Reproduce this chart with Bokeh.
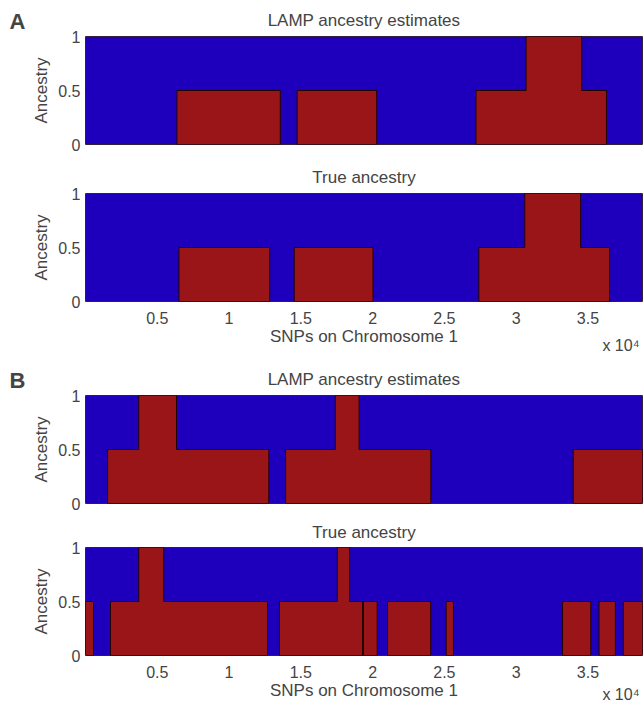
from bokeh.plotting import figure
from bokeh.layouts import column, row
from bokeh.models import FixedTicker, Range1d, LinearAxis
from bokeh.embed import file_html
from bokeh.resources import INLINE

# ---- data (SNP index breakpoints and ancestry value on each segment) ----
snp_max = 38800

a_est_edges = [0, 6370, 13570, 14740, 20290, 27200, 30690, 34570, 36290, 38800]
a_est_vals = [0, 0.5, 0, 0.5, 0, 0.5, 1, 0.5, 0]

a_true_edges = [0, 6510, 12830, 14540, 20030, 27400, 30600, 34490, 36510, 38800]
a_true_vals = [0, 0.5, 0, 0.5, 0, 0.5, 1, 0.5, 0]

b_est_edges = [0, 1540, 3710, 6340, 12770, 13940, 17400, 19060, 24060, 33970, 38800]
b_est_vals = [0, 0.5, 1, 0.5, 0, 0.5, 1, 0.5, 0, 0.5]

b_true_edges = [0, 560, 1740, 3710, 5450, 12680, 13510, 17540, 18400, 19300, 19360,
                20320, 21040, 24050, 25120, 25630, 33230, 35200, 35770, 36910, 37460, 38800]
b_true_vals = [0.5, 0, 0.5, 1, 0.5, 0, 0.5, 1, 0.5, 0, 0.5, 0, 0.5, 0, 0.5, 0,
               0.5, 0, 0.5, 0, 0.5]

x_tick_vals = [5000, 10000, 15000, 20000, 25000, 30000, 35000]
x_tick_labels = ["0.5", "1", "1.5", "2", "2.5", "3", "3.5"]
y_tick_vals = [0, 0.5, 1]
y_tick_labels = ["0", "0.5", "1"]
exp_tick = [37300]
exp_label = ["x 10\u2074"]

BLUE = "#1E00BC"
RED = "#9A1518"
EDGE = "#220000"
FONT = "Liberation Sans"
LETTER_W = 25


def runs(edges, vals):
    xs, ys = [], []
    i = 0
    n = len(vals)
    while i < n:
        if vals[i] == 0:
            i += 1
            continue
        j = i
        while j + 1 < n and vals[j + 1] != 0:
            j += 1
        px, py = [edges[i]], [0]
        for k in range(i, j + 1):
            px += [edges[k], edges[k + 1]]
            py += [vals[k], vals[k]]
        px.append(edges[j + 1])
        py.append(0)
        xs.append(px)
        ys.append(py)
        i = j + 1
    return xs, ys


def panel(edges, vals, title, show_x, top, bottom, title_standoff=14,
          width=643, left=85, exp_standoff=-12):
    p = figure(width=width, height=top + 108 + bottom, output_backend="svg",
               toolbar_location=None, x_range=Range1d(0, snp_max), y_range=Range1d(0, 1),
               min_border_left=left, min_border_right=1, min_border_top=top,
               min_border_bottom=bottom)
    p.grid.visible = False
    p.outline_line_color = "#555555"

    p.title.text = title
    p.title.align = "center"
    p.title.text_font = FONT
    p.title.text_font_size = "17px"
    p.title.text_font_style = "normal"
    p.title.standoff = title_standoff

    p.quad(left=[edges[0]], right=[edges[-1]], bottom=[0], top=[1],
           fill_color=BLUE, line_color=EDGE, line_width=1)
    xs, ys = runs(edges, vals)
    p.patches(xs, ys, fill_color=RED, line_color=EDGE, line_width=1)

    ya = p.yaxis[0]
    ya.ticker = FixedTicker(ticks=y_tick_vals)
    ya.major_label_overrides = dict(zip(y_tick_vals, y_tick_labels))
    ya.axis_label = "Ancestry"
    ya.axis_label_text_font = FONT
    ya.axis_label_text_font_style = "normal"
    ya.axis_label_text_font_size = "17px"
    ya.axis_label_standoff = 4
    ya.major_label_text_font = FONT
    ya.major_label_text_font_size = "16px"
    ya.major_label_standoff = 5
    ya.major_tick_in = 0
    ya.major_tick_out = 0
    ya.minor_tick_in = 0
    ya.minor_tick_out = 0
    ya.axis_line_color = None

    xa = p.xaxis[0]
    if show_x:
        xa.ticker = FixedTicker(ticks=x_tick_vals)
        xa.major_label_overrides = dict(zip(x_tick_vals, x_tick_labels))
        xa.axis_label = "SNPs on Chromosome 1"
        xa.axis_label_text_font = FONT
        xa.axis_label_text_font_style = "normal"
        xa.axis_label_text_font_size = "17px"
        xa.axis_label_standoff = 0
        xa.major_label_text_font = FONT
        xa.major_label_text_font_size = "16px"
        xa.major_label_standoff = 10
        xa.major_tick_in = 0
        xa.major_tick_out = 0
        xa.minor_tick_in = 0
        xa.minor_tick_out = 0
        xa.axis_line_color = None
        ax = LinearAxis(ticker=FixedTicker(ticks=exp_tick),
                        major_label_overrides=dict(zip(exp_tick, exp_label)),
                        major_label_text_font=FONT, major_label_text_font_size="16px",
                        major_label_standoff=exp_standoff, major_tick_in=0,
                        major_tick_out=0, minor_tick_in=0, minor_tick_out=0,
                        axis_line_color=None)
        p.add_layout(ax, "below")
    else:
        xa.visible = False
    return p


def letter(text, top, bottom):
    f = figure(width=LETTER_W, height=top + 108 + bottom, output_backend="svg",
               toolbar_location=None, x_range=Range1d(0, 1), y_range=Range1d(0, 1),
               min_border=0, min_border_left=0, min_border_right=0,
               min_border_top=top, min_border_bottom=bottom)
    f.outline_line_color = None
    f.axis.visible = False
    f.grid.visible = False
    f.title.text = text
    f.title.align = "left"
    f.title.offset = 9
    f.title.text_font = FONT
    f.title.text_font_size = "22px"
    f.title.text_font_style = "bold"
    f.title.standoff = 6
    return f


p1 = panel(a_est_edges, a_est_vals, "LAMP ancestry estimates", False, 36, 13,
           width=643 - LETTER_W, left=85 - LETTER_W)
p2 = panel(a_true_edges, a_true_vals, "True ancestry", True, 36, 58)
p3 = panel(b_est_edges, b_est_vals, "LAMP ancestry estimates", False, 36, 10,
           width=643 - LETTER_W, left=85 - LETTER_W)
p4 = panel(b_true_edges, b_true_vals, "True ancestry", True, 34, 56, title_standoff=12,
           exp_standoff=-17)

layout = column(row(letter("A", 36, 13), p1, spacing=0), p2,
                row(letter("B", 36, 10), p3, spacing=0), p4, spacing=0)

open("out.html", "w").write(file_html(layout, INLINE))
